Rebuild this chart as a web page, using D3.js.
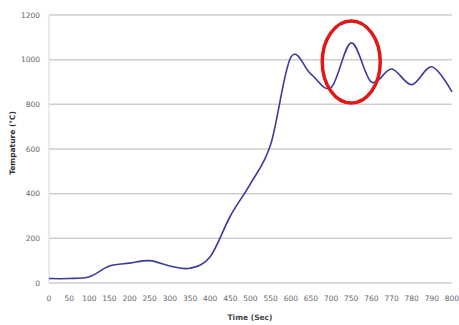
<!DOCTYPE html>
<html><head><meta charset="utf-8">
<script src="https://cdn.jsdelivr.net/npm/d3@7"></script>
<style>body{margin:0;background:#fff}svg{display:block}</style>
</head><body>
<svg id="c" width="459" height="325"></svg>
<script>
const timeLabels = ["0","50","100","150","200","250","300","350","400","450","500","550","600","650","700","750","760","770","780","790","800"];
const temperature = [20,20,28,76,89,100,76,66,118,300,445,620,1010,935,875,1075,900,958,888,968,856];
const yTicks = [0,200,400,600,800,1000,1200];
const highlight = {label:"750", value:990};

const svg = d3.select("#c");
const m = {l:49, r:7, t:15, b:42};
const W = 459, H = 325;
const x = d3.scalePoint().domain(timeLabels).range([m.l, W - m.r]);
const y = d3.scaleLinear().domain([0,1200]).range([H - m.b, m.t]);

// gridlines
svg.append("g").selectAll("line").data(yTicks).join("line")
  .attr("x1", m.l).attr("x2", W - m.r)
  .attr("y1", d => y(d)).attr("y2", d => y(d))
  .attr("stroke", "#cfcfcf").attr("stroke-width", 1.5);
svg.append("line").attr("x1", m.l).attr("x2", m.l).attr("y1", y(1200)).attr("y2", y(0))
  .attr("stroke", "#d8d8d8").attr("stroke-width", 1);

// y tick labels
svg.append("g").selectAll("text").data(yTicks).join("text")
  .attr("x", 40).attr("y", d => y(d)).attr("dy", "0.35em")
  .attr("text-anchor", "end")
  .attr("font-family", "DejaVu Sans").attr("font-size", 7.5).attr("fill", "#666")
  .text(d => d);

// x tick labels
svg.append("g").selectAll("text").data(timeLabels).join("text")
  .attr("x", d => x(d)).attr("y", 301)
  .attr("text-anchor", "middle")
  .attr("font-family", "DejaVu Sans").attr("font-size", 7.5).attr("fill", "#666")
  .text(d => d);

// axis titles
svg.append("text").attr("x", 250).attr("y", 320).attr("text-anchor", "middle")
  .attr("font-family", "DejaVu Sans").attr("font-size", 7.5).attr("font-weight", "bold").attr("fill", "#444")
  .text("Time (Sec)");
svg.append("text").attr("transform", "translate(15,143) rotate(-90)").attr("text-anchor", "middle")
  .attr("font-family", "DejaVu Sans").attr("font-size", 7.5).attr("font-weight", "bold").attr("fill", "#333")
  .text("Tempature (℃)");

// line
const line = d3.line().x((d,i) => x(timeLabels[i])).y(d => y(d)).curve(d3.curveCatmullRom.alpha(0));
svg.append("path").datum(temperature).attr("d", line)
  .attr("fill", "none").attr("stroke", "#3b3b9c").attr("stroke-width", 1.6);

// highlight ellipse
svg.append("ellipse").attr("cx", x(highlight.label)).attr("cy", y(highlight.value))
  .attr("rx", 29).attr("ry", 41)
  .attr("fill", "none").attr("stroke", "#e01818").attr("stroke-width", 3.5);
</script>
</body></html>
